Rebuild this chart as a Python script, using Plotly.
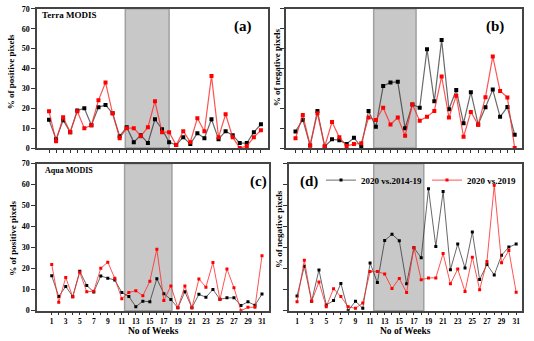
import plotly.graph_objects as go

weeks = list(range(1, 32))

# Terra MODIS, positive pixels (a)
terra_pos_14_19 = [14.2, 4.5, 14, 8, 18.9, 20, 11.5, 20.5, 21.7, 17.5, 6, 10.5, 3, 6.5, 2.5,
                   14.5, 9.5, 3, 1.5, 5.5, 2, 7.5, 5, 14.5, 4.5, 8.5, 6.5, 2.5, 2.5, 8, 12]
terra_pos_19 = [18.5, 3.5, 15.5, 8, 18.5, 10, 11.5, 24, 33, 17.5, 5, 10, 10, 6, 10.5,
                23.5, 8, 8, 1.5, 8.5, 3, 15, 8.5, 36.3, 5.5, 17, 5.5, 0, 1, 5.5, 9]

# Terra MODIS, negative pixels (b)
terra_neg_14_19 = [8.4, 14.3, 1.3, 18.7, 0.8, 4.4, 4, 2.1, 5.2, 0.6, 18.7, 10.7, 31.2, 33, 33.3,
                   10, 21.9, 20.3, 49.7, 23.5, 54.4, 19.5, 29.2, 12.5, 28.1, 11.9, 20.5, 29.4, 15.7, 20.6, 6.7]
terra_neg_19 = [4.9, 16.7, 1.3, 17.5, 0.8, 13.1, 5.4, 1.1, 2, 2.4, 15.4, 14.1, 20.3, 11.9, 15.4,
                6.2, 21.9, 13.8, 15.7, 18.7, 36, 15.4, 26.3, 5.7, 18.2, 11.7, 25.6, 46.1, 28.7, 25.5, 0]

# Aqua MODIS, positive pixels (c)
aqua_pos_14_19 = [16.6, 6.8, 11.5, 6.8, 18.8, 12, 8.9, 16.5, 15.5, 14.6, 8.7, 6.8, 1.9, 4.5, 4.3,
                  15.2, 8.1, 5.3, 1.4, 9, 1.4, 7.8, 6.4, 10.1, 5.4, 6.1, 6.1, 2.5, 4.2, 2.6, 7.9]
aqua_pos_19 = [22, 4, 15.8, 6.5, 18.3, 9, 9.3, 20.2, 23.1, 15.4, 5.7, 8.7, 9.5, 7.1, 14,
               29.3, 4.8, 11.8, 1.4, 11.8, 1.4, 15.1, 11.2, 23, 5.3, 19.9, 10.9, 0, 1.6, 1.6, 26.1]

# Aqua MODIS, negative pixels (d)
aqua_neg_14_19 = [7, 21.1, 4.5, 19.4, 2.7, 4.8, 13, 0, 4.5, 1.1, 22.7, 13.4, 33.4, 36.4, 33.3,
                  12.8, 30, 25.2, 58, 30.6, 56.7, 19.5, 31.7, 20.3, 37.5, 14.8, 22, 17, 26.4, 30.3, 31.7]
aqua_neg_19 = [4.2, 24, 4.5, 13.6, 1.9, 10.5, 6.7, 1.9, 1.1, 3.7, 18.6, 18.6, 17.5, 10.6, 15.3,
               8.6, 30, 14.7, 15.6, 15.6, 27.2, 12.8, 19.8, 9.1, 25.5, 10, 23.4, 59.7, 22.8, 28.6, 8.8]

series_names = ["2020 vs.2014-19", "2020 vs.2019"]
panel_labels = ["(a)", "(b)", "(c)", "(d)"]

W, H = 534, 341
FONT = "Liberation Serif"

def px_x(a, b):
    return [a / W, b / W]

def px_y(top, bottom):
    return [1 - bottom / H, 1 - top / H]

# panel boxes in pixels: (left, right, top, bottom, xrange, shade)
panels = [
    (37, 268, 5, 148, [-0.7, 32], [11.8, 18.0]),
    (286, 522, 5, 148, [-0.3, 32], [11.7, 17.5]),
    (37, 269, 164, 315, [-1.1, 32], [11.4, 18.15]),
    (289, 522, 164, 315, [-0.1, 31.8], [11.5, 18.35]),
]
data = [
    (terra_pos_14_19, terra_pos_19),
    (terra_neg_14_19, terra_neg_19),
    (aqua_pos_14_19, aqua_pos_19),
    (aqua_neg_14_19, aqua_neg_19),
]

fig = go.Figure()
shapes = []
for i, (p, d) in enumerate(zip(panels, data)):
    l, r, t, b, xr, sh = p
    n = "" if i == 0 else str(i + 1)
    bottom = i >= 2
    lw = 1.0 if bottom else 1.2
    ms = 3 if bottom else 4
    fig.add_trace(go.Scatter(
        x=weeks, y=d[0], xaxis="x" + n, yaxis="y" + n, mode="lines+markers",
        name=series_names[0], showlegend=(i == 3),
        line=dict(color="rgba(40,40,40,0.7)", width=lw),
        marker=dict(symbol="square", size=ms, color="black"),
    ))
    fig.add_trace(go.Scatter(
        x=weeks, y=d[1], xaxis="x" + n, yaxis="y" + n, mode="lines+markers",
        name=series_names[1], showlegend=(i == 3),
        line=dict(color="rgba(255,40,40,0.8)", width=lw),
        marker=dict(symbol="square", size=ms, color="#ff0000"),
    ))
    ax = dict(
        domain=px_x(l, r), range=xr, anchor="y" + n,
        tickvals=weeks,
        ticktext=[str(w) if (bottom and w % 2 == 1) else "" for w in weeks],
        ticks="outside", ticklen=3, tickwidth=1, tickcolor="#333",
        showgrid=False, zeroline=False, showline=True, linecolor="#444", linewidth=1.5, mirror=True,
        tickfont=dict(family=FONT, size=7.5, color="black", weight="bold"),
    )
    ay = dict(
        domain=px_y(t, b), range=[0, 70], anchor="x" + n,
        tickvals=list(range(0, 71, 10)),
        showticklabels=(i % 2 == 0),
        ticks="outside", ticklen=4, tickwidth=1, tickcolor="#333",
        showgrid=False, zeroline=False, showline=True, linecolor="#444", linewidth=1.5, mirror=True,
        tickfont=dict(family=FONT, size=8, color="black", weight="bold"),
    )
    fig.update_layout({"xaxis" + n: ax, "yaxis" + n: ay})
    shapes.append(dict(
        type="rect", xref="x" + n, yref="y" + n + " domain", x0=sh[0], x1=sh[1], y0=0, y1=1,
        fillcolor="#c8c8c8", line=dict(color="#a0a0a0", width=1.5), layer="below",
    ))

ann_font = dict(family=FONT, color="black", weight="bold")
annotations = [
    dict(text="Terra MODIS", x=40 / W, y=1 - 11 / H, font=dict(size=9, **ann_font), xanchor="left"),
    dict(text="Aqua MODIS", x=43 / W, y=1 - 171 / H, font=dict(size=8, **ann_font), xanchor="left"),
    dict(text=panel_labels[0], x=243 / W, y=1 - 23 / H, font=dict(size=15, **ann_font)),
    dict(text=panel_labels[1], x=495 / W, y=1 - 23 / H, font=dict(size=15, **ann_font)),
    dict(text=panel_labels[2], x=258 / W, y=1 - 182 / H, font=dict(size=15, **ann_font)),
    dict(text=panel_labels[3], x=309 / W, y=1 - 182 / H, font=dict(size=15, **ann_font)),
    dict(text="% of positive pixels", x=11 / W, y=1 - 70 / H, textangle=-90, font=dict(size=9, **ann_font)),
    dict(text="% of positive pixels", x=13 / W, y=1 - 241 / H, textangle=-90, font=dict(size=9, **ann_font)),
    dict(text="% of negative pixels", x=277 / W, y=1 - 65 / H, textangle=-90, font=dict(size=9, **ann_font)),
    dict(text="% of negative pixels", x=279 / W, y=1 - 231 / H, textangle=-90, font=dict(size=9, **ann_font)),
    dict(text="No of Weeks", x=153 / W, y=1 - 335.5 / H, font=dict(size=9.5, **ann_font)),
    dict(text="No of Weeks", x=405 / W, y=1 - 335.5 / H, font=dict(size=9.5, **ann_font)),
]
for a in annotations:
    a.setdefault("xanchor", "center")
    a.update(xref="paper", yref="paper", yanchor="middle", showarrow=False)

fig.update_layout(
    width=W, height=H, margin=dict(l=0, r=0, t=0, b=0),
    paper_bgcolor="white", plot_bgcolor="white",
    shapes=shapes, annotations=annotations,
    legend=dict(orientation="h", x=522 / W, y=1 - 166 / H, xanchor="right", yanchor="top",
                bgcolor="rgba(0,0,0,0)", font=dict(family=FONT, size=9, color="black", weight="bold"),
                itemwidth=30, tracegroupgap=0),
)

# page body has a default 8px margin; drop it so the figure sits at the window corner
fig.write_html(
    "out.html",
    config={"responsive": False, "displayModeBar": False},
    post_script="document.body.style.margin='0';document.body.style.overflow='hidden';",
)
